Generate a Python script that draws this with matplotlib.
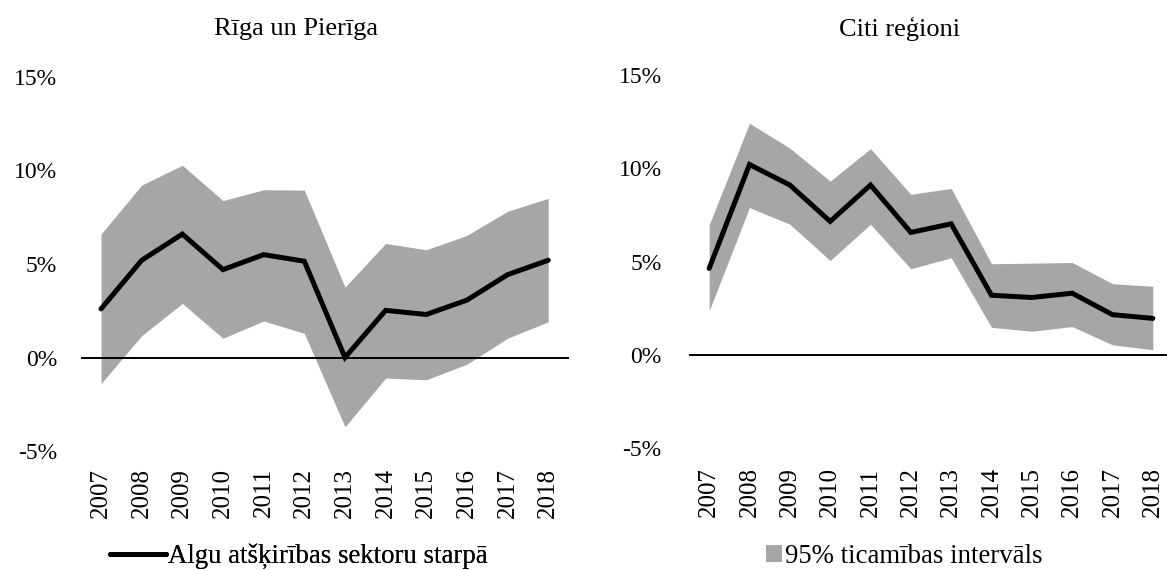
import matplotlib
matplotlib.use("Agg")
import matplotlib.pyplot as plt
from matplotlib.ticker import FuncFormatter

plt.rcParams['font.family'] = ['Liberation Serif', 'DejaVu Serif']

years = ["2007", "2008", "2009", "2010", "2011", "2012", "2013", "2014", "2015", "2016", "2017", "2018"]

riga_gap = [2.6, 5.2, 6.6, 4.7, 5.5, 5.15, 0.0, 2.52, 2.3, 3.07, 4.43, 5.2]
riga_upper = [6.6, 9.22, 10.28, 8.39, 8.97, 8.95, 3.76, 6.1, 5.76, 6.53, 7.82, 8.51]
riga_lower = [-1.4, 1.17, 2.89, 1.03, 1.95, 1.29, -3.71, -1.1, -1.19, -0.36, 1.03, 1.91]

other_gap = [4.63, 10.2, 9.1, 7.15, 9.1, 6.56, 7.02, 3.19, 3.07, 3.3, 2.15, 1.95]
other_upper = [6.97, 12.41, 11.08, 9.31, 11.05, 8.6, 8.92, 4.88, 4.91, 4.95, 3.81, 3.67]
other_lower = [2.36, 7.89, 7.0, 5.05, 7.0, 4.61, 5.2, 1.47, 1.26, 1.51, 0.53, 0.27]

titles = ["Rīga un Pierīga", "Citi reģioni"]
legend_line = "Algu atšķirības sektoru starpā"
legend_band = "95% ticamības intervāls"
yticks = [-5, 0, 5, 10, 15]

W, H = 1167, 570
fig = plt.figure(figsize=(W / 100, H / 100), dpi=100)

def frac(x0, x1, ytop, ybot):
    return [x0 / W, 1 - ybot / H, (x1 - x0) / W, (ybot - ytop) / H]

ax1 = fig.add_axes(frac(80.7, 568.6, 77, 451))
ax2 = fig.add_axes(frac(689, 1173, 75, 448))

band_color = "#A6A6A6"
fs_y = 17
fs_x = 18
fs_t = 19
fs_l = 19.3

handles = {}
for ax, gap, up, lo, ypad, xpad in [(ax1, riga_gap, riga_upper, riga_lower, 17, 12),
                                    (ax2, other_gap, other_upper, other_lower, 19.7, 14)]:
    x = list(range(len(years)))
    band = ax.fill_between(x, lo, up, color=band_color, linewidth=0, zorder=1)
    ax.axhline(0, color="black", linewidth=1.4, zorder=2)
    line, = ax.plot(x, gap, color="black", linewidth=3.6, solid_capstyle="round",
                    solid_joinstyle="miter", zorder=3)
    handles['line'] = line
    handles['band'] = band
    ax.set_xlim(-0.5, 11.5)
    ax.set_ylim(-5, 15)
    ax.set_yticks(yticks)
    ax.yaxis.set_major_formatter(FuncFormatter(lambda v, p: f"{int(v)}%"))
    ax.set_xticks(x)
    ax.set_xticklabels(years, rotation=90, fontsize=fs_x)
    ax.tick_params(axis='x', length=0, pad=xpad)
    ax.tick_params(axis='y', length=0, pad=ypad, labelsize=fs_y)
    for s in ax.spines.values():
        s.set_visible(False)
    ax.set_facecolor("none")

fig.text(296 / W, 1 - 29 / H, titles[0], ha="center", va="center", fontsize=fs_t)
fig.text(900 / W, 1 - 29 / H, titles[1], ha="center", va="center", fontsize=fs_t)

leg1 = fig.legend(handles=[handles['line']], labels=[legend_line], loc="center left",
                  bbox_to_anchor=(110 / W, 1 - 556.5 / H), frameon=False, fontsize=fs_l,
                  handlelength=2.1, handletextpad=0.05, borderpad=0, borderaxespad=0)
leg2 = fig.legend(handles=[handles['band']], labels=[legend_band], loc="center left",
                  bbox_to_anchor=(766 / W, 1 - 556.5 / H), frameon=False, fontsize=fs_l,
                  handlelength=0.6, handleheight=0.6, handletextpad=0.1, borderpad=0, borderaxespad=0)
fig.add_artist(leg1)

fig.savefig("out.png", dpi=100)
